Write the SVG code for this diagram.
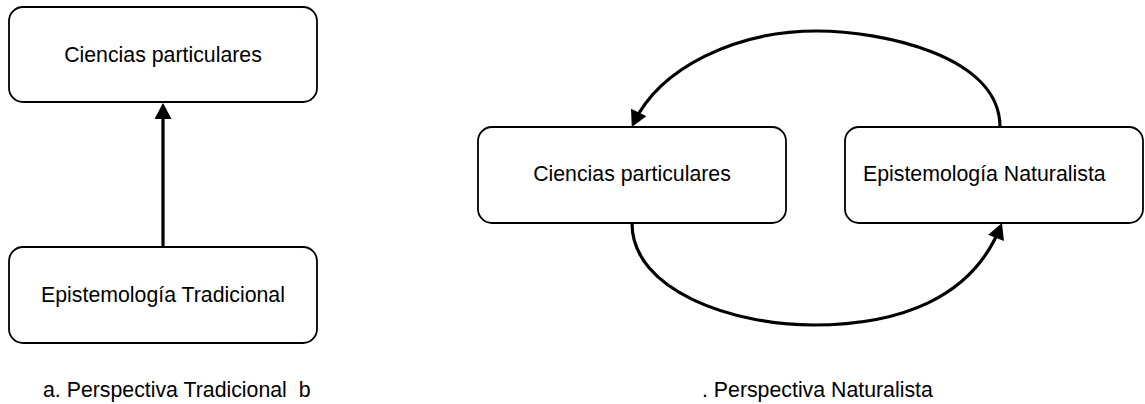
<svg xmlns="http://www.w3.org/2000/svg" width="1145" height="404" viewBox="0 0 1145 404">
<style>
.box{fill:#fff;stroke:#000;stroke-width:1.8}
.lbl{font-family:"Liberation Sans",Arial,sans-serif;font-size:21.3px;fill:#000;white-space:pre}
.mid{text-anchor:middle}
.conn{fill:none;stroke:#000;stroke-width:3.2}
</style>
<defs>
<marker id="ah" markerUnits="userSpaceOnUse" markerWidth="17" markerHeight="17" refX="12" refY="8.5" orient="auto" viewBox="0 0 16 17">
<path d="M0,0 L16,8.5 L0,17 z" fill="#000"/>
</marker>
</defs>
<rect width="1145" height="404" fill="#fff"/>
<g id="connectors">
<line class="conn" x1="163" y1="247" x2="163" y2="107" marker-end="url(#ah)"/>
<path class="conn" d="M1000,127 C1000,55 880,31 817,31 C735,31 660,68 633.5,123.3" marker-end="url(#ah)"/>
<path class="conn" d="M632,223 C632,292 735,325 813,325 C900,325 972,298 1000.5,226.7" marker-end="url(#ah)"/>
</g>
<g id="n-ciencias-a">
<rect class="box" x="9" y="7" width="308" height="95" rx="14"/>
<text class="lbl mid" x="163" y="62">Ciencias particulares</text>
</g>
<g id="n-epist-trad">
<rect class="box" x="9" y="247" width="308" height="96" rx="14"/>
<text class="lbl mid" x="163" y="302">Epistemología Tradicional</text>
</g>
<g id="n-ciencias-b">
<rect class="box" x="478" y="127" width="308" height="96" rx="14"/>
<text class="lbl mid" x="632" y="181">Ciencias particulares</text>
</g>
<g id="n-epist-nat">
<rect class="box" x="845" y="127" width="298" height="96" rx="14"/>
<text class="lbl" x="863" y="181">Epistemología Naturalista</text>
</g>
<g id="captions">
<text class="lbl" x="43" y="397">a. Perspectiva Tradicional  b</text>
<text class="lbl" x="702" y="397">. Perspectiva Naturalista</text>
</g>
</svg>
